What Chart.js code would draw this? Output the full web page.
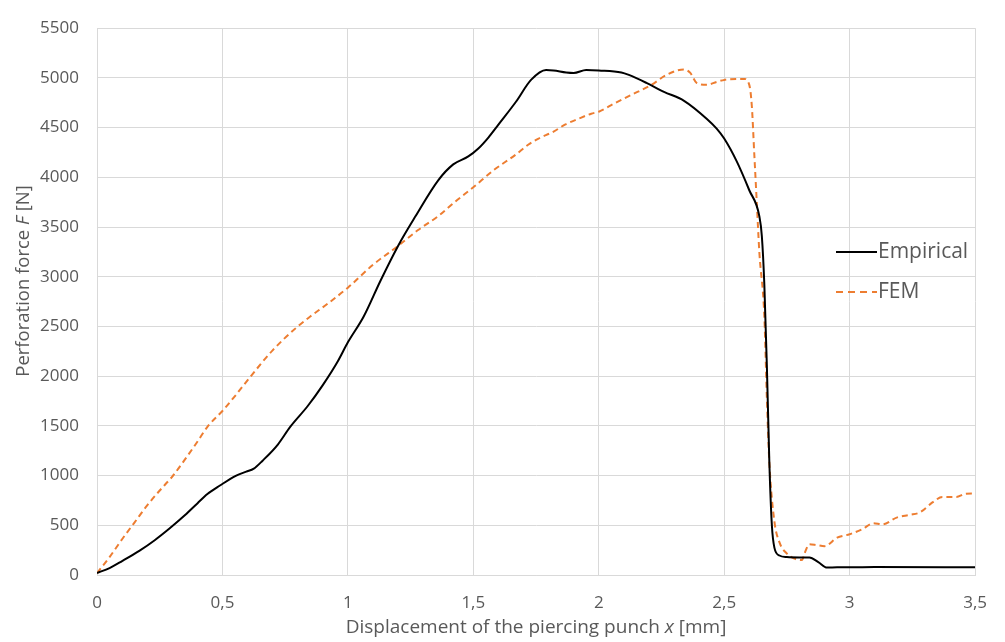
<!DOCTYPE html>
<html>
<head>
<meta charset="utf-8">
<script src="https://cdn.jsdelivr.net/npm/chart.js@4"></script>
<style>
  html, body { margin: 0; padding: 0; background: #fff; }
  #wrap { width: 1005px; height: 642px; }
</style>
</head>
<body>
<div id="wrap"><canvas id="forceChart" width="1005" height="642"></canvas></div>
<script>
/* ============================
   DATA
============================ */
const empX = [0, 0.05, 0.1, 0.17, 0.23, 0.29, 0.35, 0.4, 0.44, 0.49, 0.555, 0.595, 0.625, 0.66, 0.72, 0.77, 0.84, 0.9, 0.96, 1.0,
  1.063, 1.13, 1.2, 1.27, 1.36, 1.42, 1.48, 1.52, 1.56, 1.6, 1.67, 1.73, 1.79, 1.82, 1.87, 1.9, 1.95, 2.0, 2.09, 2.12,
  2.19, 2.26, 2.34, 2.43, 2.47, 2.5, 2.55, 2.6, 2.64, 2.65, 2.66, 2.67, 2.68, 2.69, 2.7, 2.72, 2.75, 2.8, 2.84, 2.875,
  2.91, 2.95, 3.0, 3.1, 3.5];
const empY = [20, 70, 140, 245, 350, 470, 600, 720, 815, 900, 1000, 1040, 1070, 1150, 1310, 1490, 1700, 1910, 2150, 2340,
  2600, 2960, 3310, 3610, 3970, 4130, 4210, 4290, 4400, 4530, 4760, 4980, 5080, 5075, 5055, 5050, 5080, 5075, 5055, 5030,
  4950, 4860, 4770, 4590, 4490, 4390, 4160, 3870, 3610, 3410, 2920, 2110, 1130, 500, 275, 196, 180, 176, 176, 130,
  75, 78, 78, 80, 78];

const femX = [0, 0.05, 0.1, 0.15, 0.2, 0.25, 0.3, 0.35, 0.4, 0.44, 0.5, 0.55, 0.61, 0.7, 0.8, 0.85, 0.92, 1.0, 1.1, 1.2,
  1.28, 1.36, 1.43, 1.5, 1.58, 1.67, 1.72, 1.76, 1.82, 1.865, 1.92, 1.97, 2.0, 2.06, 2.13, 2.21, 2.27, 2.34, 2.365, 2.39,
  2.43, 2.47, 2.5, 2.55, 2.58, 2.6, 2.61, 2.62, 2.63, 2.64, 2.66, 2.67, 2.68, 2.7, 2.72, 2.75, 2.78, 2.81, 2.82, 2.84,
  2.87, 2.9, 2.95, 3.0, 3.05, 3.095, 3.13, 3.19, 3.24, 3.28, 3.33, 3.37, 3.425, 3.46, 3.5];
const femY = [20, 180, 360, 530, 700, 850, 990, 1160, 1340, 1490, 1650, 1800, 1990, 2260, 2500, 2600, 2730, 2890, 3120, 3310,
  3470, 3610, 3760, 3900, 4070, 4230, 4330, 4390, 4460, 4530, 4590, 4640, 4660, 4740, 4830, 4930, 5030, 5085, 5050, 4950,
  4930, 4960, 4980, 4990, 4990, 4930, 4720, 4230, 3740, 3250, 2600, 1780, 1130, 540, 330, 215, 165, 150, 215, 310,
  300, 290, 375, 410, 460, 520, 510, 580, 605, 630, 730, 785, 785, 815, 820];

const seriesNames = ["Empirical", "FEM"];
const xTickLabels = ["0", "0,5", "1", "1,5", "2", "2,5", "3", "3,5"];
const xTickValues = [0, 0.5, 1, 1.5, 2, 2.5, 3, 3.5];
const yTickValues = [0, 500, 1000, 1500, 2000, 2500, 3000, 3500, 4000, 4500, 5000, 5500];

/* ============================
   STYLE
============================ */
const FONT = "'Open Sans', 'DejaVu Sans', sans-serif";
const TEXT = "#595959";
const GRID = "#d9d9d9";
const BLACK = "#000000";
const ORANGE = "#ED7D31";

const toPoints = (xs, ys) => xs.map((x, i) => ({ x: x, y: ys[i] }));

/* axis titles with italic symbol + legend drawn inside plot */
const decorPlugin = {
  id: "decor",
  afterDraw(chart) {
    const ctx = chart.ctx;
    const area = chart.chartArea;
    ctx.save();
    ctx.fillStyle = TEXT;
    ctx.textBaseline = "middle";

    function drawParts(parts, x, y, size) {
      let total = 0;
      parts.forEach(p => {
        ctx.font = (p.italic ? "italic " : "") + size + "px " + FONT;
        total += ctx.measureText(p.t).width;
      });
      let cx = x - total / 2;
      parts.forEach(p => {
        ctx.font = (p.italic ? "italic " : "") + size + "px " + FONT;
        ctx.textAlign = "left";
        ctx.fillText(p.t, cx, y);
        cx += ctx.measureText(p.t).width;
      });
    }

    // x axis title
    drawParts([
      { t: "Displacement of the piercing punch " },
      { t: "x", italic: true },
      { t: " [mm]" }
    ], (area.left + area.right) / 2, 628, 19);

    // y axis title (rotated)
    ctx.save();
    ctx.translate(24, 281);
    ctx.rotate(-Math.PI / 2);
    drawParts([
      { t: "Perforation force " },
      { t: "F", italic: true },
      { t: " [N]" }
    ], 0, 0, 18.5);
    ctx.restore();

    // legend
    const items = [
      { name: seriesNames[0], color: BLACK, dash: [], y: 252 },
      { name: seriesNames[1], color: ORANGE, dash: [7, 5], y: 292 }
    ];
    items.forEach(it => {
      ctx.beginPath();
      ctx.setLineDash(it.dash);
      ctx.strokeStyle = it.color;
      ctx.lineWidth = 2;
      ctx.moveTo(836, it.y);
      ctx.lineTo(877, it.y);
      ctx.stroke();
      ctx.setLineDash([]);
      ctx.font = "21px " + FONT;
      ctx.textAlign = "left";
      ctx.fillStyle = TEXT;
      ctx.fillText(it.name, 878, it.y);
    });
    ctx.restore();
  }
};

new Chart(document.getElementById("forceChart"), {
  type: "line",
  data: {
    datasets: [
      {
        label: seriesNames[0],
        data: toPoints(empX, empY),
        borderColor: BLACK,
        borderWidth: 2,
        pointRadius: 0,
        fill: false,
        cubicInterpolationMode: "monotone"
      },
      {
        label: seriesNames[1],
        data: toPoints(femX, femY),
        borderColor: ORANGE,
        borderWidth: 2,
        borderDash: [6, 4],
        pointRadius: 0,
        fill: false,
        cubicInterpolationMode: "monotone"
      }
    ]
  },
  options: {
    responsive: false,
    animation: false,
    devicePixelRatio: 1,
    layout: { padding: { left: 0, top: 15, right: 26, bottom: 0 } },
    plugins: {
      legend: { display: false },
      tooltip: { enabled: false }
    },
    scales: {
      x: {
        type: "linear",
        min: 0,
        max: 3.5,
        afterBuildTicks: scale => { scale.ticks = xTickValues.map(v => ({ value: v })); },
        afterFit: scale => { scale.height = 67; },
        grid: { color: GRID, lineWidth: 1, drawTicks: false },
        border: { color: GRID },
        ticks: {
          padding: 18,
          color: TEXT,
          font: { family: FONT, size: 17 },
          maxRotation: 0,
          callback: (v, i) => xTickLabels[i]
        }
      },
      y: {
        min: 0,
        max: 5500,
        afterBuildTicks: scale => { scale.ticks = yTickValues.map(v => ({ value: v })); },
        afterFit: scale => { scale.width = 97; },
        grid: { color: GRID, lineWidth: 1, drawTicks: false },
        border: { color: GRID },
        ticks: {
          padding: 18,
          color: TEXT,
          font: { family: FONT, size: 17 },
          callback: v => String(v)
        }
      }
    }
  },
  plugins: [decorPlugin]
});
</script>
</body>
</html>
